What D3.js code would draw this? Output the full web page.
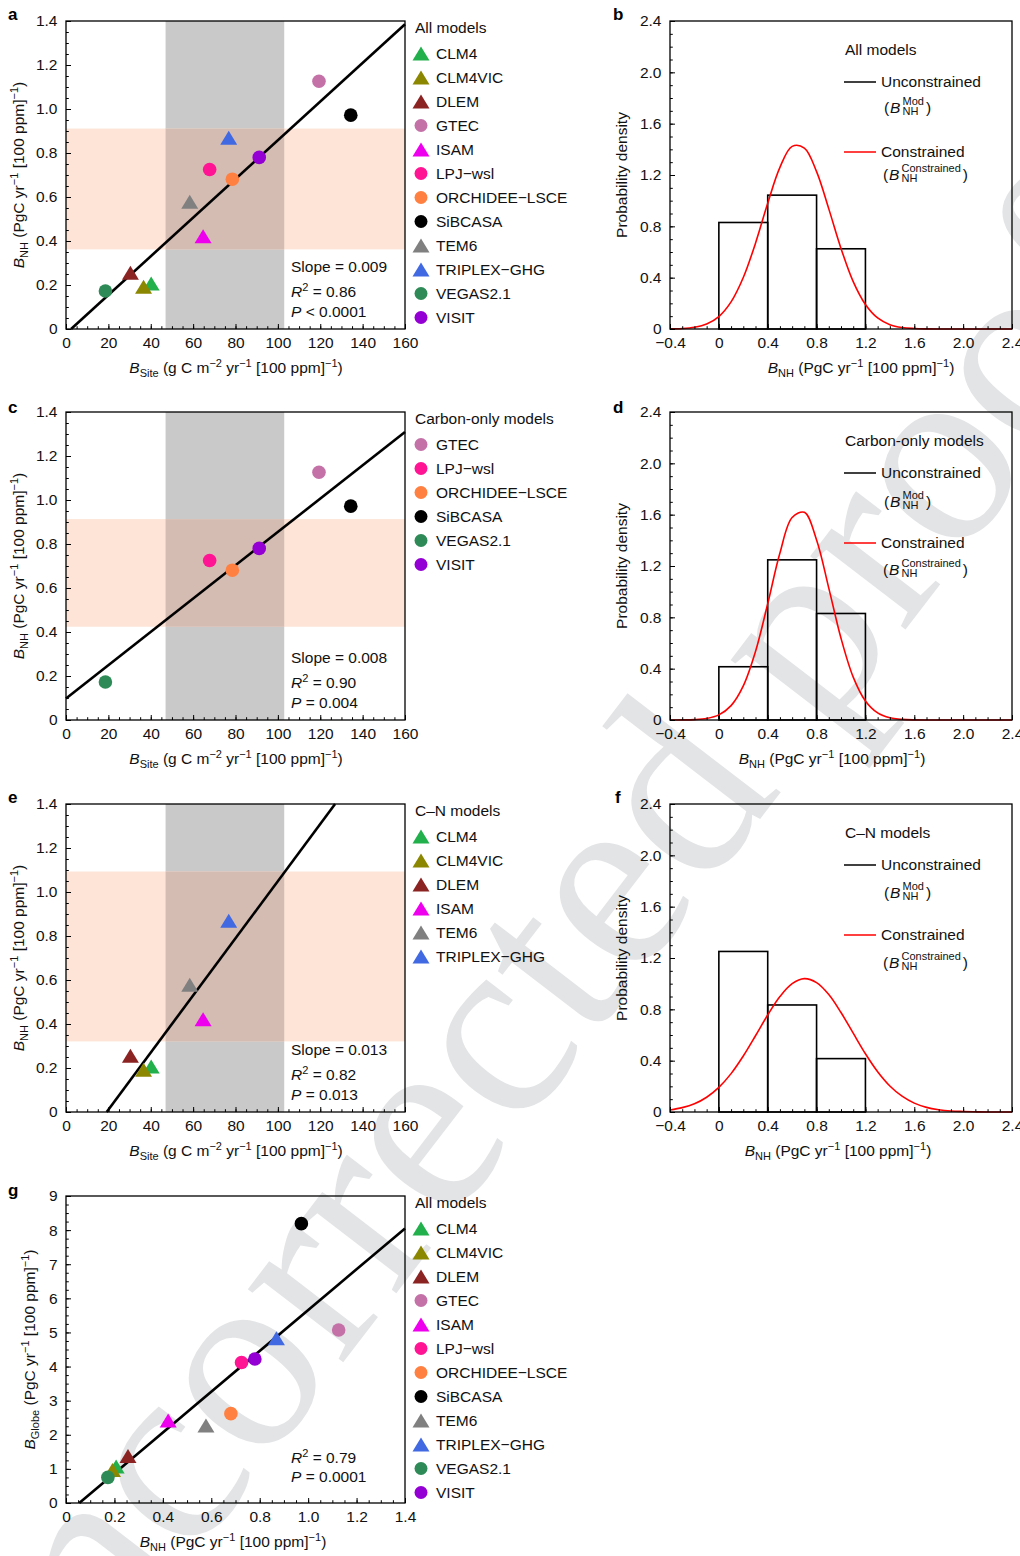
<!DOCTYPE html>
<html><head><meta charset="utf-8">
<script src="https://cdn.jsdelivr.net/npm/d3@7"></script>
<style>
body{margin:0;background:#fff}
text{font-family:"Liberation Sans",Arial,sans-serif;font-size:15.5px;fill:#111}
</style>
</head><body>
<svg id="chart" width="1020" height="1556"></svg>
<script>
// ---------------- DATA ----------------
const models = ["CLM4","CLM4VIC","DLEM","GTEC","ISAM","LPJ\u2212wsl","ORCHIDEE\u2212LSCE","SiBCASA","TEM6","TRIPLEX\u2212GHG","VEGAS2.1","VISIT"];
const shapes = ["tri","tri","tri","circ","tri","circ","circ","circ","tri","tri","circ","circ"];
const colors = ["#22b04c","#8c8700","#8b2323","#c471a8","#ee00ee","#ff1493","#ff8040","#000000","#808080","#4169e1","#2e8b57","#9400d3"];
const bSite  = [40.2, 36.6, 30.4, 119.4, 64.7, 67.8, 78.5, 134.4, 58.4, 76.8, 18.6, 91.2];
const bNH    = [0.207, 0.192, 0.256, 1.126, 0.422, 0.725, 0.681, 0.972, 0.578, 0.869, 0.173, 0.780];
const bGlobe = [1.07, 0.97, 1.38, 5.07, 2.42, 4.12, 2.62, 8.19, 2.27, 4.83, 0.75, 4.22];
const carbonOnly = ["GTEC","LPJ\u2212wsl","ORCHIDEE\u2212LSCE","SiBCASA","VEGAS2.1","VISIT"];
const cnModels = ["CLM4","CLM4VIC","DLEM","ISAM","TEM6","TRIPLEX\u2212GHG"];

// regression line end points [x0,x1],[y0,y1]
const lineA = {x:[2.4,160], y:[0,1.385]};
const lineC = {x:[0,160], y:[0.098,1.309]};
const lineE = {x:[19.2,127], y:[0,1.4]};
const lineG = {x:[0.055,1.4], y:[0,8.05]};
// constraint bands
const siteBand = [47,103];
const nhBandA = [0.362,0.911];
const nhBandC = [0.424,0.913];
const nhBandE = [0.321,1.093];
// statistics text
const statsA = ["0.009","0.86","< 0.0001"];
const statsC = ["0.008","0.90","= 0.004"];
const statsE = ["0.013","0.82","= 0.013"];
const statsG = [null,"0.79","= 0.0001"];

// histograms
const binStarts = [0,0.4,0.8];
const binWidth = 0.4;
const histB = [0.83,1.043,0.625];
const histD = [0.415,1.248,0.83];
const histF = [1.251,0.834,0.416];
// constrained PDF curves
const curveX = [-0.4,-0.3,-0.2,-0.1,0,0.1,0.2,0.3,0.4,0.5,0.6,0.7,0.8,0.9,1.0,1.1,1.2,1.3,1.4,1.5,1.6,1.7,1.8,1.9,2.0,2.1,2.2,2.3,2.4];
const curveB = [0.001,0.004,0.014,0.039,0.097,0.211,0.401,0.669,0.980,1.260,1.423,1.410,1.226,0.936,0.628,0.369,0.191,0.086,0.034,0.012,0.004,0.001,0,0,0,0,0,0,0];
const curveD = [0.0001,0.0007,0.003,0.012,0.040,0.112,0.266,0.534,0.906,1.301,1.578,1.618,1.403,1.028,0.637,0.334,0.148,0.055,0.017,0.005,0.001,0,0,0,0,0,0,0,0];
const curveF = [0.016,0.034,0.064,0.115,0.192,0.299,0.436,0.594,0.756,0.900,1.000,1.039,1.008,0.915,0.775,0.614,0.454,0.314,0.203,0.123,0.069,0.036,0.018,0.008,0.004,0.0014,0.0005,0.0002,0.0001];

// ticks
const siteTicks = [0,20,40,60,80,100,120,140,160];
const nhTicks = [0,0.2,0.4,0.6,0.8,1.0,1.2,1.4];
const pdfXTicks = [-0.4,0,0.4,0.8,1.2,1.6,2.0,2.4];
const pdfYTicks = [0,0.4,0.8,1.2,1.6,2.0,2.4];
const globeTicks = [0,1,2,3,4,5,6,7,8,9];

// ---------------- DRAW ----------------
const svg = d3.select("#chart");

// watermark
svg.append("text")
  .attr("transform","translate(599,1029) rotate(-52.5)")
  .attr("text-anchor","middle")
  .style("font-family","'Liberation Serif','DejaVu Serif',serif")
  .style("font-weight","normal").style("font-size","262px")
  .style("fill","#e3e4e6")
  .text("uncorrected proof");

const fmt1 = d => d === 0 ? "0" : d3.format(".1f")(d);
const fmt0 = d => d3.format("d")(d);

function rich(sel, segs) {
  let off = 0;
  segs.forEach(s => {
    const target = s.sub ? 4 : (s.sup ? -6 : 0);
    const ts = sel.append("tspan").attr("dy", target - off).text(s.t);
    off = target;
    if (s.sub || s.sup) ts.style("font-size","11px");
    if (s.it) ts.style("font-style","italic");
  });
}
const titleSite = [{t:"B",it:true},{t:"Site",sub:true},{t:" (g C m"},{t:"\u22122",sup:true},{t:" yr"},{t:"\u22121",sup:true},{t:" [100 ppm]"},{t:"\u22121",sup:true},{t:")"}];
const titleNH = [{t:"B",it:true},{t:"NH",sub:true},{t:" (PgC yr"},{t:"\u22121",sup:true},{t:" [100 ppm]"},{t:"\u22121",sup:true},{t:")"}];
const titleGlobe = [{t:"B",it:true},{t:"Globe",sub:true},{t:" (PgC yr"},{t:"\u22121",sup:true},{t:" [100 ppm]"},{t:"\u22121",sup:true},{t:")"}];

function triPath(){ return "M0,-7L8.5,7L-8.5,7Z"; }
function drawMarker(g, i, x, y, r) {
  if (shapes[i] === "tri") {
    g.append("path").attr("d", triPath()).attr("transform",`translate(${x},${y})`).attr("fill", colors[i]);
  } else {
    g.append("circle").attr("cx",x).attr("cy",y).attr("r",r).attr("fill",colors[i]);
  }
}

function axes(g, x, y, o) {
  const [x0,x1] = x.range(), [y0,y1] = y.range();
  g.append("g").attr("transform",`translate(0,${y0})`)
    .call(d3.axisBottom(x).tickValues(o.xMinor).tickSize(-2.8).tickFormat(""))
    .call(s=>s.select(".domain").remove());
  g.append("g").attr("transform",`translate(${x0},0)`)
    .call(d3.axisLeft(y).tickValues(o.yMinor).tickSize(-2.8).tickFormat(""))
    .call(s=>s.select(".domain").remove());
  g.append("g").attr("transform",`translate(0,${y0})`)
    .call(d3.axisBottom(x).tickValues(o.xTicks).tickSize(-5).tickPadding(8).tickFormat(o.xFmt))
    .call(s=>s.select(".domain").remove())
    .call(s=>s.selectAll("text").style("font-size","15.5px").attr("fill","#111"));
  g.append("g").attr("transform",`translate(${x0},0)`)
    .call(d3.axisLeft(y).tickValues(o.yTicks).tickSize(-5).tickPadding(8.5).tickFormat(o.yFmt))
    .call(s=>s.select(".domain").remove())
    .call(s=>s.selectAll("text").style("font-size","15.5px").attr("fill","#111"));
  g.selectAll(".tick line").attr("stroke","#000").attr("stroke-width",1);
  g.selectAll(".tick text").style("font-family","'Liberation Sans',Arial,sans-serif");
  g.append("rect").attr("x",x0).attr("y",y1).attr("width",x1-x0).attr("height",y0-y1)
    .attr("fill","none").attr("stroke","#000").attr("stroke-width",1.3);
}

function letter(x, y, t) {
  svg.append("text").attr("x",x).attr("y",y).style("font-weight","bold").style("font-size","17px").style("fill","#000").text(t);
}

function scatterPanel(o) {
  const g = svg.append("g");
  const x = d3.scaleLinear().domain(o.xDom).range([66,405]);
  const y = d3.scaleLinear().domain(o.yDom).range([o.bottom,o.top]);
  if (o.band) {
    const bx0 = x(siteBand[0]), bx1 = x(siteBand[1]);
    const by0 = y(o.band[1]), by1 = y(o.band[0]);
    g.append("rect").attr("x",bx0).attr("y",o.top).attr("width",bx1-bx0).attr("height",o.bottom-o.top).attr("fill","#c9c9c9");
    g.append("rect").attr("x",66).attr("y",by0).attr("width",405-66).attr("height",by1-by0).attr("fill","#fde4d6");
    g.append("rect").attr("x",bx0).attr("y",by0).attr("width",bx1-bx0).attr("height",by1-by0).attr("fill","#d5bcb3");
  }
  g.append("line").attr("x1",x(o.line.x[0])).attr("y1",y(o.line.y[0]))
    .attr("x2",x(o.line.x[1])).attr("y2",y(o.line.y[1]))
    .attr("stroke","#000").attr("stroke-width",2.6);
  o.members.forEach(m => {
    const i = models.indexOf(m);
    drawMarker(g, i, x(o.xs[i]), y(o.ys[i]), 6.8);
  });
  axes(g, x, y, o);
  const sx = 291;
  if (o.stats[0]) g.append("text").attr("x",sx).attr("y",o.bottom-57).text("Slope = " + o.stats[0]);
  const r2 = g.append("text").attr("x",sx).attr("y",o.bottom-o.sOff[0]);
  rich(r2,[{t:"R",it:true},{t:"2",sup:true},{t:" = " + o.stats[1]}]);
  const p = g.append("text").attr("x",sx).attr("y",o.bottom-o.sOff[1]);
  rich(p,[{t:"P",it:true},{t:" " + o.stats[2]}]);
  g.append("text").attr("x",415).attr("y",o.top+12).text(o.legTitle);
  o.legend.forEach((m,k) => {
    const i = models.indexOf(m);
    const cy = o.top + 32.5 + 24*k;
    drawMarker(g, i, 421, cy, 6.5);
    g.append("text").attr("x",436).attr("y",cy+5.5).text(m);
  });
  const xt = g.append("text").attr("x",o.xtX).attr("y",o.bottom+44).attr("text-anchor","middle");
  rich(xt, o.xTitle);
  const yt = g.append("text").attr("text-anchor","middle")
    .attr("transform",`translate(${o.ytX},${(o.top+o.bottom)/2}) rotate(-90)`);
  rich(yt, o.yTitle);
}

function stackLabel(g, x, y, sup) {
  g.append("text").attr("x",x).attr("y",y).text("(");
  g.append("text").attr("x",x+6).attr("y",y).style("font-style","italic").text("B");
  const s = g.append("text").attr("x",x+18.5).attr("y",y-8.5).style("font-size","11px").text(sup);
  g.append("text").attr("x",x+18.5).attr("y",y+1.5).style("font-size","11px").text("NH");
  const w = Math.max(s.node().getComputedTextLength(), 17);
  g.append("text").attr("x",x+18.5+w+2).attr("y",y).text(")");
}

function pdfPanel(o) {
  const g = svg.append("g");
  const x = d3.scaleLinear().domain([-0.4,2.4]).range([670,1012]);
  const y = d3.scaleLinear().domain([0,2.4]).range([o.bottom,o.top]);
  g.selectAll("rect.bar").data(o.hist).enter().append("rect").attr("class","bar")
    .attr("x",(d,k)=>x(binStarts[k])).attr("width",(d,k)=>x(binStarts[k]+binWidth)-x(binStarts[k]))
    .attr("y",d=>y(d)).attr("height",d=>y(0)-y(d))
    .attr("fill","none").attr("stroke","#000").attr("stroke-width",1.6);
  const line = d3.line().x((d,k)=>x(curveX[k])).y(d=>y(Math.max(0,d))).curve(d3.curveCatmullRom.alpha(0.5));
  g.append("path").attr("d",line(o.curve)).attr("fill","none").attr("stroke","#ff0000").attr("stroke-width",1.6);
  axes(g, x, y, {
    xTicks: pdfXTicks, xMinor: d3.range(-0.4,2.41,0.1), xFmt: fmt1,
    yTicks: pdfYTicks, yMinor: d3.range(0,2.41,0.1), yFmt: fmt1
  });
  const t = o.top;
  g.append("text").attr("x",845).attr("y",t+34).text(o.legTitle);
  g.append("line").attr("x1",844).attr("x2",876).attr("y1",t+61).attr("y2",t+61).attr("stroke","#000").attr("stroke-width",1.5);
  g.append("text").attr("x",881).attr("y",t+66).text("Unconstrained");
  stackLabel(g, 884, t+o.lab[0], "Mod");
  g.append("line").attr("x1",844).attr("x2",876).attr("y1",t+131).attr("y2",t+131).attr("stroke","#ff0000").attr("stroke-width",1.5);
  g.append("text").attr("x",881).attr("y",t+136).text("Constrained");
  stackLabel(g, 883, t+o.lab[1], "Constrained");
  const xt = g.append("text").attr("x",o.xtX).attr("y",o.bottom+44).attr("text-anchor","middle");
  rich(xt, titleNH);
  g.append("text").attr("text-anchor","middle")
    .attr("transform",`translate(627,${(o.top+o.bottom)/2}) rotate(-90)`)
    .text("Probability density");
}

const siteOpts = {
  xDom:[0,160], yDom:[0,1.4], xs:bSite, ys:bNH,
  xTicks: siteTicks, xMinor: d3.range(0,161,5), xFmt: fmt0,
  yTicks: nhTicks, yMinor: d3.range(0,1.41,0.05), yFmt: fmt1,
  xTitle: titleSite, yTitle: titleNH, xtX: 236, ytX: 24, sOff:[32,12]
};

scatterPanel(Object.assign({}, siteOpts, {top:21, bottom:329, band:nhBandA, line:lineA,
  members: models, legend: models, legTitle:"All models", stats: statsA}));
scatterPanel(Object.assign({}, siteOpts, {top:412, bottom:720, band:nhBandC, line:lineC,
  members: carbonOnly, legend: carbonOnly, legTitle:"Carbon-only models", stats: statsC}));
scatterPanel(Object.assign({}, siteOpts, {top:804, bottom:1112, band:nhBandE, line:lineE,
  members: cnModels, legend: cnModels, legTitle:"C\u2013N models", stats: statsE}));
scatterPanel({top:1196, bottom:1503, xDom:[0,1.4], yDom:[0,9], xs:bNH, ys:bGlobe,
  xTicks: nhTicks, xMinor: d3.range(0,1.41,0.05), xFmt: fmt1,
  yTicks: globeTicks, yMinor: d3.range(0,9.01,0.25), yFmt: fmt0,
  xTitle: titleNH, yTitle: titleGlobe, xtX: 233, ytX: 35, sOff:[40,21],
  band:null, line:lineG, members: models, legend: models, legTitle:"All models", stats: statsG});

pdfPanel({top:21, bottom:329, hist:histB, curve:curveB, legTitle:"All models", lab:[92,159], xtX:861});
pdfPanel({top:412, bottom:720, hist:histD, curve:curveD, legTitle:"Carbon-only models", lab:[95,163], xtX:832});
pdfPanel({top:804, bottom:1112, hist:histF, curve:curveF, legTitle:"C\u2013N models", lab:[94,164], xtX:838});

letter(8,20,"a"); letter(613,20,"b");
letter(8,413,"c"); letter(613,413,"d");
letter(8,803,"e"); letter(615,803,"f");
letter(8,1196,"g");
</script>
</body></html>
